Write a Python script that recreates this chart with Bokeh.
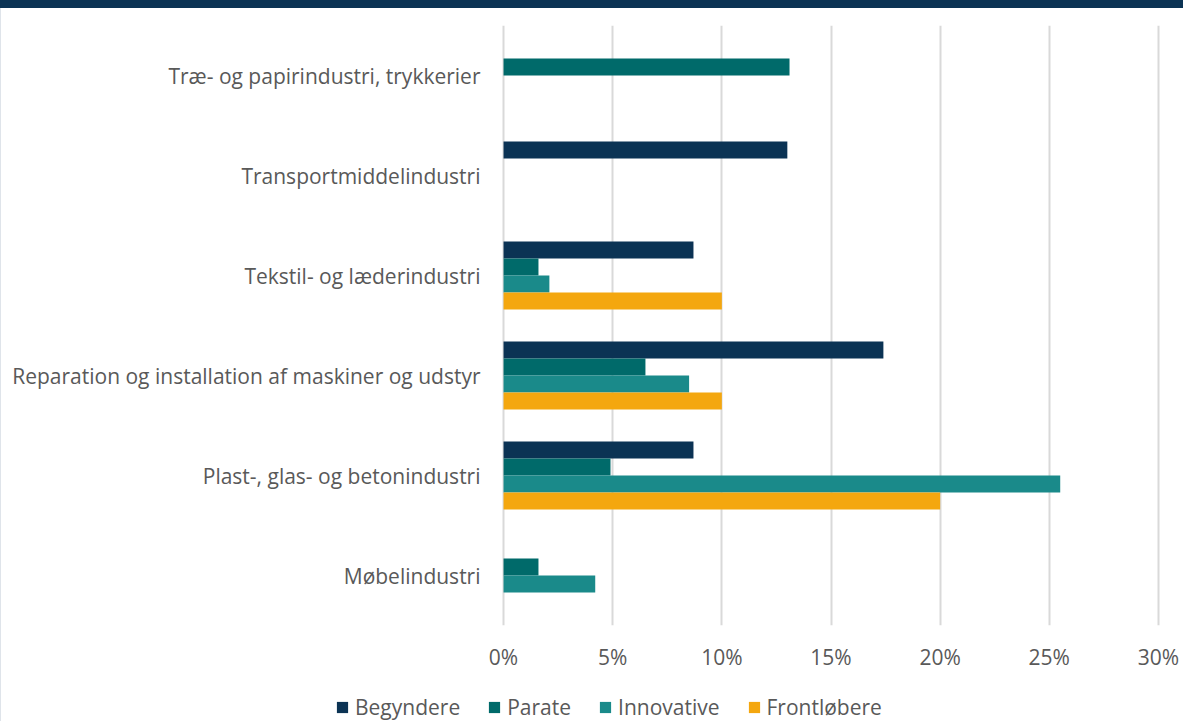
from bokeh.plotting import figure
from bokeh.layouts import column
from bokeh.models import (FactorRange, Range1d, FixedTicker, PrintfTickFormatter,
                          ColumnDataSource, Legend, LegendItem, GlobalInlineStyleSheet)
from bokeh.transform import dodge
from bokeh.embed import file_html
from bokeh.resources import INLINE

# Categories listed bottom -> top
categories = [
    "Møbelindustri",
    "Plast-, glas- og betonindustri",
    "Reparation og installation af maskiner og udstyr",
    "Tekstil- og læderindustri",
    "Transportmiddelindustri",
    "Træ- og papirindustri, trykkerier",
]
series_names = ["Begyndere", "Parate", "Innovative", "Frontløbere"]
begyndere = [0.0, 8.7, 17.4, 8.7, 13.0, 0.0]
parate = [1.6, 4.9, 6.5, 1.6, 0.0, 13.1]
innovative = [4.2, 25.5, 8.5, 2.1, 0.0, 0.0]
frontlobere = [0.0, 20.0, 10.0, 10.0, 0.0, 0.0]
x_ticks = [0, 5, 10, 15, 20, 25, 30]

colors = ["#0b3354", "#006a6a", "#1a8a8a", "#f4a70f"]
offsets = [0.255, 0.085, -0.085, -0.255]
FONT = "Open Sans"
TXT = "#595959"

source = ColumnDataSource(dict(cat=categories, Begyndere=begyndere, Parate=parate,
                               Innovative=innovative, Frontløbere=frontlobere))

MAIN_H = 681
LEG_H = 40

p = figure(width=1183, height=MAIN_H, output_backend="svg", toolbar_location=None,
           y_range=FactorRange(factors=categories, range_padding=0),
           x_range=Range1d(-0.46, 30.46))
p.frame_align = False
p.min_border_left = 493
p.min_border_right = 15
p.min_border_top = 25
p.min_border_bottom = MAIN_H - 625
p.outline_line_color = None
p.background_fill_color = "white"
p.border_fill_color = None

for name, col, off in zip(series_names, colors, offsets):
    p.hbar(y=dodge("cat", off, range=p.y_range), right=name, left=0, height=0.17,
           source=source, fill_color=col, line_color=None)

p.xgrid.grid_line_color = "#d9d9d9"
p.xgrid.grid_line_width = 2
p.ygrid.grid_line_color = None
p.xaxis.ticker = FixedTicker(ticks=x_ticks)
p.xaxis.formatter = PrintfTickFormatter(format="%d%%")
for ax in (p.xaxis[0], p.yaxis[0]):
    ax.axis_line_color = None
    ax.major_tick_line_color = None
    ax.minor_tick_line_color = None
    ax.major_tick_out = 0
    ax.major_tick_in = 0
    ax.major_label_text_font = FONT
    ax.major_label_text_font_size = "21px"
    ax.major_label_text_color = TXT
p.xaxis.major_label_standoff = 17
p.yaxis.major_label_standoff = 13

p.stylesheets.append(GlobalInlineStyleSheet(css="""
html { background: linear-gradient(#0b3354 0px, #0b3354 8px, transparent 8px),
                   linear-gradient(to right, #dfe4ea 0px, #dfe4ea 1px, #ffffff 1px); }
"""))

# Legend strip: hidden copies of the series provide the legend swatches
lg = figure(width=1183, height=LEG_H, output_backend="svg", toolbar_location=None,
            x_range=Range1d(0, 1), y_range=Range1d(0, 1))
lg.frame_align = False
lg.min_border = 0
lg.min_border_left = 0
lg.min_border_right = 0
lg.min_border_top = 0
lg.min_border_bottom = 0
lg.axis.visible = False
lg.grid.visible = False
lg.outline_line_color = None
lg.background_fill_color = None
lg.border_fill_color = None
swatches = [lg.hbar(y="cat", right=n, left=0, height=0.1, source=source,
                    fill_color=c, line_color=None, visible=False)
            for n, c in zip(series_names, colors)]
legend = Legend(items=[LegendItem(label=n, renderers=[r]) for n, r in zip(series_names, swatches)],
                orientation="horizontal", location=(335, 0),
                glyph_width=14, glyph_height=14, label_standoff=6, spacing=27,
                padding=0, margin=0, border_line_color=None, background_fill_alpha=0,
                inactive_fill_alpha=0,
                label_text_font=FONT, label_text_font_size="21px", label_text_color=TXT)
lg.add_layout(legend, "center")

layout = column(p, lg, spacing=0)
open("out.html", "w").write(file_html(layout, INLINE))
